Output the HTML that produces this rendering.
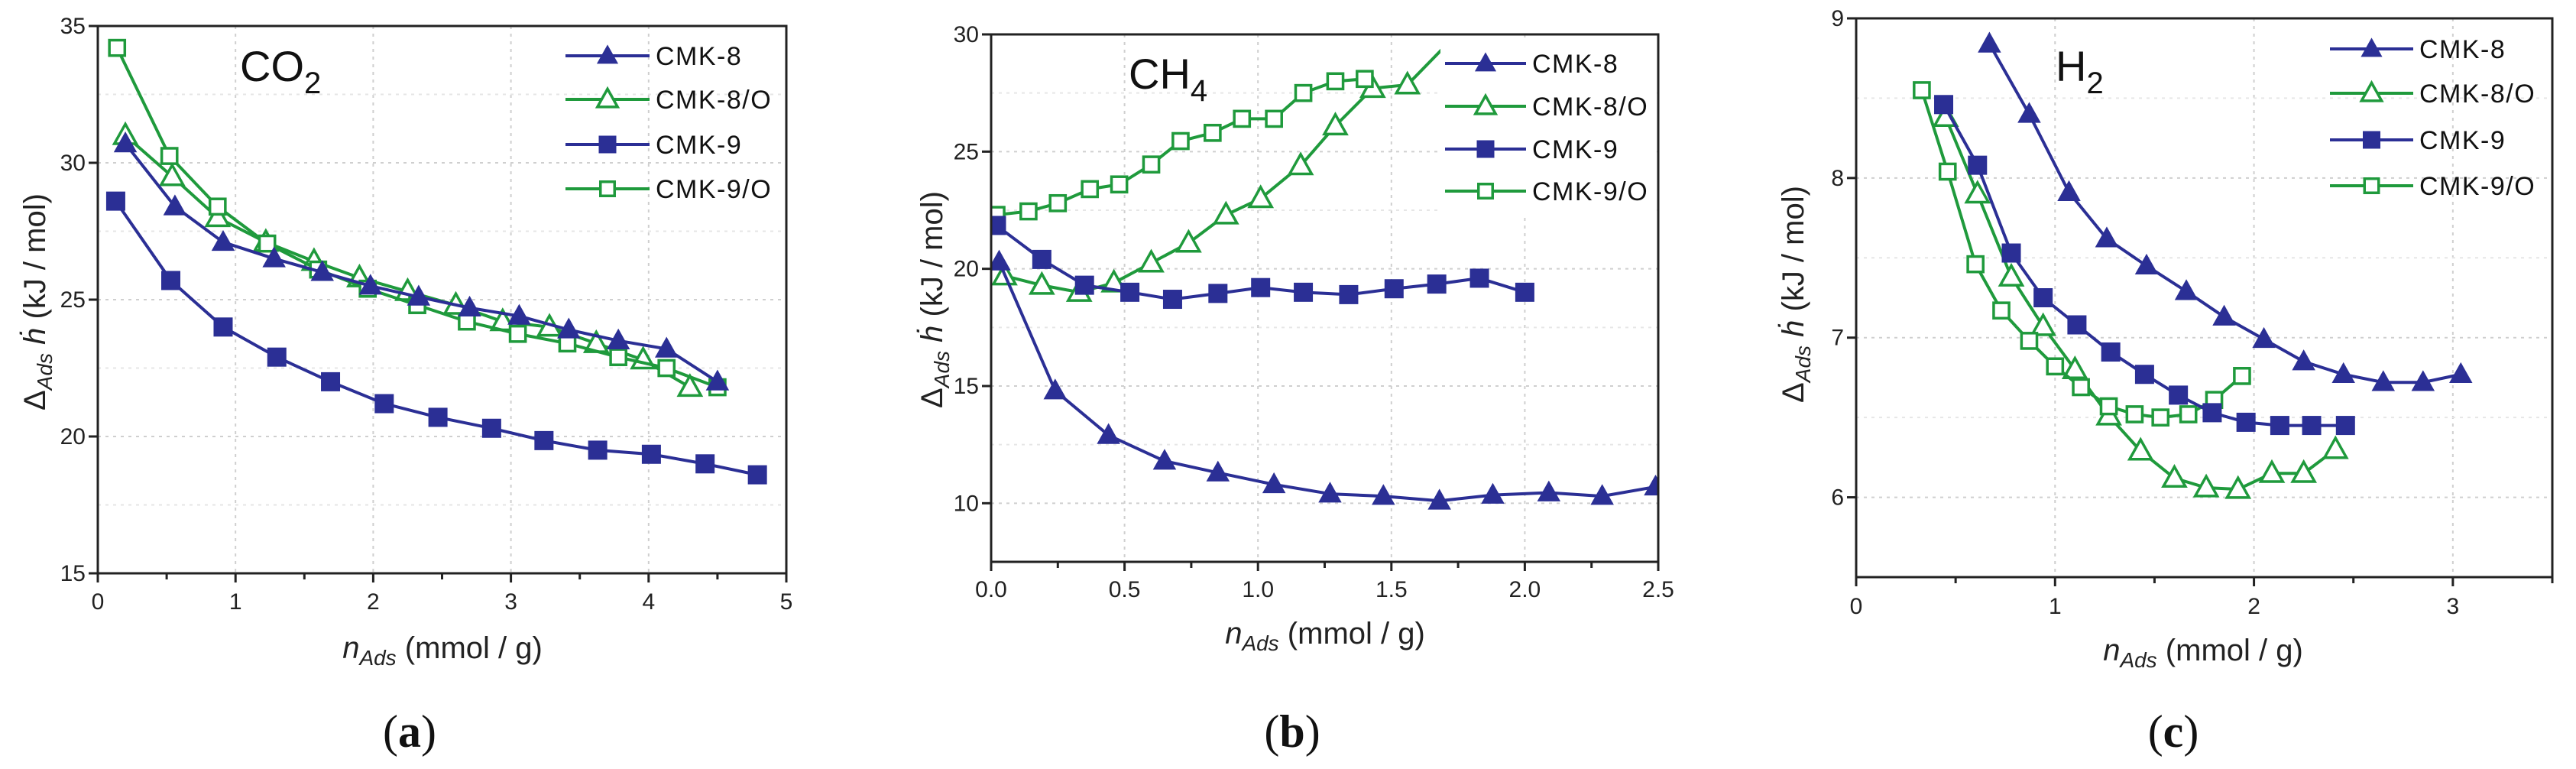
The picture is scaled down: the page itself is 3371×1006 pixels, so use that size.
<!DOCTYPE html>
<html><head><meta charset="utf-8">
<style>
html,body{margin:0;padding:0;background:#fff;}
svg{display:block;font-family:"Liberation Sans",sans-serif;}
</style></head>
<body>
<svg id="fig" width="3371" height="1006" viewBox="0 0 3371 1006" xmlns="http://www.w3.org/2000/svg"></svg>
<script>
// ---------- Data (a) CO2 ----------
const aCMK8x  = [0.2,0.56,0.91,1.28,1.63,1.98,2.33,2.7,3.06,3.42,3.78,4.13,4.5];
const aCMK8y  = [30.7,28.4,27.1,26.5,26.0,25.5,25.1,24.7,24.4,23.9,23.5,23.2,22.0];
const aCMK8Ox = [0.2,0.54,0.87,1.22,1.57,1.9,2.25,2.6,2.94,3.28,3.62,3.96,4.3];
const aCMK8Oy = [31.0,29.5,28.0,27.1,26.4,25.8,25.3,24.8,24.2,24.0,23.4,22.8,21.8];
const aCMK9x  = [0.13,0.53,0.91,1.3,1.69,2.08,2.47,2.86,3.24,3.63,4.02,4.41,4.79];
const aCMK9y  = [28.6,25.7,24.0,22.9,22.0,21.2,20.7,20.3,19.85,19.5,19.35,19.0,18.6];
const aCMK9Ox = [0.14,0.52,0.87,1.23,1.6,1.96,2.32,2.68,3.05,3.41,3.78,4.13,4.5];
const aCMK9Oy = [34.2,30.25,28.4,27.05,26.1,25.4,24.8,24.2,23.75,23.4,22.9,22.5,21.8];
const aXTicks = [0,1,2,3,4,5];
const aYTicks = [15,20,25,30,35];
// ---------- Data (b) CH4 ----------
const bCMK8x  = [0.03,0.24,0.44,0.65,0.85,1.06,1.27,1.47,1.68,1.88,2.09,2.29,2.49];
const bCMK8y  = [20.3,14.8,12.9,11.8,11.3,10.8,10.4,10.3,10.1,10.35,10.45,10.3,10.7];
const bCMK8Ox = [0.05,0.19,0.33,0.46,0.6,0.74,0.88,1.01,1.16,1.29,1.43,1.56,1.71];
const bCMK8Oy = [19.7,19.3,19.0,19.4,20.25,21.1,22.3,23.0,24.4,26.1,27.7,27.85,29.6];
const bCMK9x  = [0.02,0.19,0.35,0.52,0.68,0.85,1.01,1.17,1.34,1.51,1.67,1.83,2.0];
const bCMK9y  = [21.85,20.4,19.3,19.0,18.7,18.95,19.2,19.0,18.9,19.15,19.35,19.6,19.0];
const bCMK9Ox = [0.02,0.14,0.25,0.37,0.48,0.6,0.71,0.83,0.94,1.06,1.17,1.29,1.4];
const bCMK9Oy = [22.3,22.45,22.8,23.4,23.6,24.45,25.45,25.8,26.4,26.4,27.5,28.0,28.1];
const bXTicks = [0,0.5,1.0,1.5,2.0,2.5];
const bYTicks = [10,15,20,25,30];
// ---------- Data (c) H2 ----------
const cCMK8x  = [0.67,0.87,1.07,1.26,1.46,1.66,1.85,2.05,2.25,2.45,2.65,2.85,3.04];
const cCMK8y  = [8.84,8.4,7.91,7.62,7.45,7.29,7.13,6.99,6.85,6.77,6.72,6.72,6.77];
const cCMK8Ox = [0.45,0.61,0.78,0.94,1.1,1.27,1.43,1.6,1.76,1.92,2.09,2.25,2.41];
const cCMK8Oy = [8.38,7.9,7.38,7.07,6.8,6.51,6.29,6.12,6.06,6.05,6.15,6.15,6.3];
const cCMK9x  = [0.44,0.61,0.78,0.94,1.11,1.28,1.45,1.62,1.79,1.96,2.13,2.29,2.46];
const cCMK9y  = [8.46,8.08,7.53,7.25,7.08,6.91,6.77,6.64,6.53,6.47,6.45,6.45,6.45];
const cCMK9Ox = [0.33,0.46,0.6,0.73,0.87,1.0,1.13,1.27,1.4,1.53,1.67,1.8,1.94];
const cCMK9Oy = [8.55,8.04,7.46,7.17,6.98,6.82,6.69,6.57,6.52,6.5,6.52,6.61,6.76];
const cXTicks = [0,1,2,3];
const cYTicks = [6,7,8,9];
const seriesNames = ["CMK-8","CMK-8/O","CMK-9","CMK-9/O"];

const NS="http://www.w3.org/2000/svg";
const svg=document.getElementById('fig');
const BLUE="#2b2f95", GREEN="#1f9a3c";
function mk(tag,attrs,parent){const e=document.createElementNS(NS,tag);for(const k in attrs)e.setAttribute(k,attrs[k]);(parent||svg).appendChild(e);return e;}

function marker(g,type,px,py,color,s){
  let m;
  if(type==="tri"||type==="otri"){
    m=mk('polygon',{points:`${px},${py-s*0.62} ${px-s*0.6},${py+s*0.45} ${px+s*0.6},${py+s*0.45}`,fill:type==="tri"?color:"#fff",stroke:color,'stroke-width':type==="tri"?1:3.5},g);
  } else {
    const h=type==="sq"?s*0.5:s*0.42;
    m=mk('rect',{x:px-h,y:py-h,width:2*h,height:2*h,fill:type==="sq"?color:"#fff",stroke:color,'stroke-width':type==="sq"?1:3.5},g);
  }
  return m;
}

function panel(cfg){
  const g=mk('g',{});
  
  
  const L=cfg.L,R=cfg.R,T=cfg.T,B=cfg.B;
  const sx=v=>L+(v-cfg.xmin)/(cfg.xmax-cfg.xmin)*(R-L);
  const sy=v=>B-(v-cfg.ymin)/(cfg.ymax-cfg.ymin)*(B-T);
  // grid
  const grid=mk('g',{},g);
  
  
  cfg.xTicks.forEach(v=>{ if(v>cfg.xmin&&v<cfg.xmax) mk('line',{x1:sx(v),x2:sx(v),y1:T,y2:B,stroke:"#cfcfcf",'stroke-width':2,'stroke-dasharray':'4 6'},grid);});
  cfg.yTicks.forEach(v=>{ if(v>cfg.ymin&&v<cfg.ymax) mk('line',{x1:L,x2:R,y1:sy(v),y2:sy(v),stroke:"#cfcfcf",'stroke-width':2,'stroke-dasharray':'4 6'},grid);});
  for(let i=0;i<cfg.yTicks.length-1;i++){const v=(cfg.yTicks[i]+cfg.yTicks[i+1])/2; mk('line',{x1:L,x2:R,y1:sy(v),y2:sy(v),stroke:"#e6e6e6",'stroke-width':2,'stroke-dasharray':'4 6'},grid);}
  // clip
  const cp=mk('clipPath',{id:cfg.id+'clip'},g);
  mk('rect',{x:L,y:T,width:R-L,height:B-T},cp);
  const data=[[cfg.s[0],cfg.s[1],BLUE,'tri'],[cfg.s[2],cfg.s[3],GREEN,'otri'],[cfg.s[4],cfg.s[5],BLUE,'sq'],[cfg.s[6],cfg.s[7],GREEN,'osq']];
  const order=[1,3,0,2];
  order.forEach(k=>{
    const [xs,ys,col,type]=data[k];
    const sg=mk('g',{'clip-path':`url(#${cfg.id}clip)`},g);
    
    
    const pts=xs.map((x,i)=>sx(x)+','+sy(ys[i])).join(' ');
    mk('polyline',{points:pts,fill:'none',stroke:col,'stroke-width':4,'stroke-linejoin':'round'},sg);
    xs.forEach((x,i)=>{
      if(cfg.noLastMarker&&k===cfg.noLastMarker&&i===xs.length-1) return;
      const m=marker(sg,type,sx(x),sy(ys[i]),col,24);
      
      
    });
  });
  // legend
  const lg=mk('g',{},g);
  
  
  if(cfg.legBg) mk('rect',{x:cfg.legX1-6,y:cfg.legRows[0]-30,width:R-cfg.legX1+4,height:cfg.legRows[3]-cfg.legRows[0]+62,fill:'#fff'},lg);
  const legTypes=['tri','otri','sq','osq'], legCols=[BLUE,GREEN,BLUE,GREEN];
  seriesNames.forEach((n,k)=>{
    const y=cfg.legRows[k];
    const e=mk('g',{},lg);
    
    
    mk('line',{x1:cfg.legX1,x2:cfg.legX2,y1:y,y2:y,stroke:legCols[k],'stroke-width':4},e);
    marker(e,legTypes[k],(cfg.legX1+cfg.legX2)/2,y,legCols[k],22);
    const t=mk('text',{x:cfg.legX2+8,y:y+12,'font-size':34,'letter-spacing':1.5,fill:'#111'},e);
    t.textContent=n;
  });
  // frame
  const fr=mk('rect',{x:L,y:T,width:R-L,height:B-T,fill:'none',stroke:'#222','stroke-width':3},g);
  
  
  // ticks x
  const xa=mk('g',{},g);
  
  
  cfg.xTicks.forEach((v,i)=>{
    mk('line',{x1:sx(v),x2:sx(v),y1:B,y2:B+12,stroke:'#222','stroke-width':3},xa);
    if(i<cfg.xTicks.length-1){const mv=(v+cfg.xTicks[i+1])/2; mk('line',{x1:sx(mv),x2:sx(mv),y1:B,y2:B+8,stroke:'#222','stroke-width':3},xa);}
    const t=mk('text',{x:sx(v),y:cfg.xLabY+10,'text-anchor':'middle','font-size':30,fill:'#222'},xa);
    t.textContent=cfg.xDec?v.toFixed(1):String(v);
  });
  if(cfg.xmax>cfg.xTicks[cfg.xTicks.length-1]){const mv=cfg.xTicks[cfg.xTicks.length-1]+(cfg.xTicks[1]-cfg.xTicks[0])/2; mk('line',{x1:sx(mv),x2:sx(mv),y1:B,y2:B+8,stroke:'#222','stroke-width':3},xa);}
  const ya=mk('g',{},g);
  
  
  cfg.yTicks.forEach(v=>{
    mk('line',{x1:L-12,x2:L,y1:sy(v),y2:sy(v),stroke:'#222','stroke-width':3},ya);
    const t=mk('text',{x:L-16,y:sy(v)+10,'text-anchor':'end','font-size':30,fill:'#222'},ya);
    t.textContent=String(v);
  });
  // axis titles
  const xt=mk('text',{x:cfg.xtX,y:cfg.xtY+13,'text-anchor':'middle','font-size':40,fill:'#222'},g);
  
  
  xt.innerHTML='<tspan font-style="italic">n</tspan><tspan font-style="italic" font-size="28" dy="9">Ads</tspan><tspan dy="-9"> (mmol / g)</tspan>';
  const yt=mk('text',{x:0,y:0,'text-anchor':'middle','font-size':40,fill:'#222',transform:`translate(${cfg.ytX+13},${cfg.ytY}) rotate(-90)`},g);
  
  
  yt.innerHTML='<tspan>Δ</tspan><tspan font-style="italic" font-size="28" dy="9">Ads</tspan><tspan dy="-9" font-style="italic"> ḣ</tspan><tspan> (kJ / mol)</tspan>';
  // gas label
  const gl=mk('text',{x:cfg.gasX,y:cfg.gasY,'font-size':56,fill:'#111'},g);
  
  
  gl.innerHTML=`<tspan>${cfg.gas}</tspan><tspan font-size="40" dy="16">${cfg.gasSub}</tspan>`;
  const pl=mk('text',{x:cfg.plX,y:cfg.plY+20,'text-anchor':'middle','font-size':60,'font-family':'"Liberation Serif",serif',fill:'#111'},g);
  
  
  pl.innerHTML=`(<tspan font-weight="bold">${cfg.letter}</tspan>)`;
}

panel({id:'a',L:128,R:1029,T:34,B:750,xmin:0,xmax:5,ymin:15,ymax:35,xTicks:aXTicks,yTicks:aYTicks,
  s:[aCMK8x,aCMK8y,aCMK8Ox,aCMK8Oy,aCMK9x,aCMK9y,aCMK9Ox,aCMK9Oy],
  legX1:740,legX2:850,legRows:[73,130,189,247],xLabY:787,xtX:579,xtY:848,ytX:46,ytY:395,
  gas:'CO',gasSub:'2',gasX:314,gasY:106,plX:536,plY:957,letter:'a'});
panel({id:'b',L:1297,R:2170,T:45,B:735,xmin:0,xmax:2.5,ymin:7.5,ymax:30,xTicks:bXTicks,yTicks:bYTicks,xDec:true,
  s:[bCMK8x,bCMK8y,bCMK8Ox,bCMK8Oy,bCMK9x,bCMK9y,bCMK9Ox,bCMK9Oy],noLastMarker:1,legBg:true,
  legX1:1891,legX2:1997,legRows:[83,139,195,250],xLabY:771,xtX:1734,xtY:829,ytX:1220,ytY:392,
  gas:'CH',gasSub:'4',gasX:1477,gasY:116,plX:1691,plY:957,letter:'b'});
panel({id:'c',L:2429,R:3340,T:24,B:755,xmin:0,xmax:3.5,ymin:5.5,ymax:9,xTicks:cXTicks,yTicks:cYTicks,
  s:[cCMK8x,cCMK8y,cCMK8Ox,cCMK8Oy,cCMK9x,cCMK9y,cCMK9Ox,cCMK9Oy],
  legX1:3049,legX2:3158,legRows:[64,122,183,243],xLabY:793,xtX:2883,xtY:851,ytX:2347,ytY:385,
  gas:'H',gasSub:'2',gasX:2690,gasY:106,plX:2844,plY:957,letter:'c'});
</script>
</body></html>
